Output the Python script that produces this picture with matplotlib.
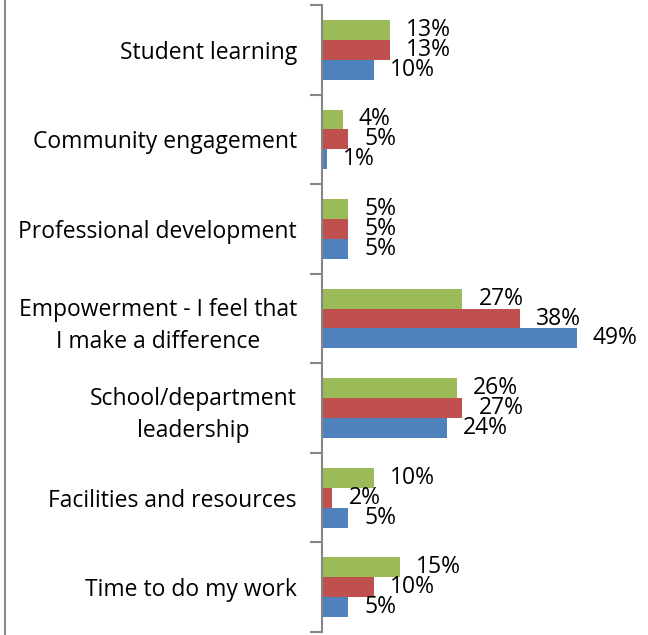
import numpy as np
import matplotlib
matplotlib.use("Agg")
import matplotlib.pyplot as plt
from matplotlib.lines import Line2D

categories = [
    "Student learning",
    "Community engagement",
    "Professional development",
    "Empowerment - I feel that\nI make a difference",
    "School/department\nleadership",
    "Facilities and resources",
    "Time to do my work",
]
green_vals = [13, 4, 5, 27, 26, 10, 15]
red_vals = [13, 5, 5, 38, 27, 2, 10]
blue_vals = [10, 1, 5, 49, 24, 5, 5]

series = [
    (green_vals, "#9BBB59", -1),
    (red_vals, "#C0504D", 0),
    (blue_vals, "#4F81BD", 1),
]

plt.rcParams["font.family"] = ["Open Sans", "DejaVu Sans"]
FS = 16.5

fig = plt.figure(figsize=(6.48, 6.35), dpi=100)
ax = fig.add_axes([322 / 648, 3 / 635, (634 - 322) / 648, (630 - 3) / 635])

y = np.arange(len(categories))
bar_h = 1 / 4.5

for vals, color, k in series:
    pos = y + k * bar_h
    ax.barh(pos, vals, height=bar_h, color=color, edgecolor="none")
    for v, p in zip(vals, pos):
        ax.annotate(f"{v}%", xy=(v, p), xytext=(16, 0), textcoords="offset pixels",
                    ha="left", va="center", fontsize=FS, color="black")

ax.set_xlim(0, 60)
ax.set_ylim(len(categories) - 0.5, -0.5)

ax.set_yticks(y)
ax.set_yticklabels(categories, fontsize=FS, ha="right", multialignment="center",
                   linespacing=1.45)
ax.set_yticks(np.arange(len(categories) + 1) - 0.5, minor=True)
ax.tick_params(axis="y", which="major", length=0, pad=18)
ax.tick_params(axis="y", which="minor", length=9, color="#868686", width=1.5)
ax.set_xticks([])

for side in ["top", "right", "bottom"]:
    ax.spines[side].set_visible(False)
ax.spines["left"].set_color("#868686")
ax.spines["left"].set_linewidth(1.5)

# thin border on the far left of the chart area
fig.add_artist(Line2D([4.5 / 648, 4.5 / 648], [0, 1], transform=fig.transFigure,
                      color="#888888", linewidth=1.5))

fig.savefig("out.png", dpi=100)
